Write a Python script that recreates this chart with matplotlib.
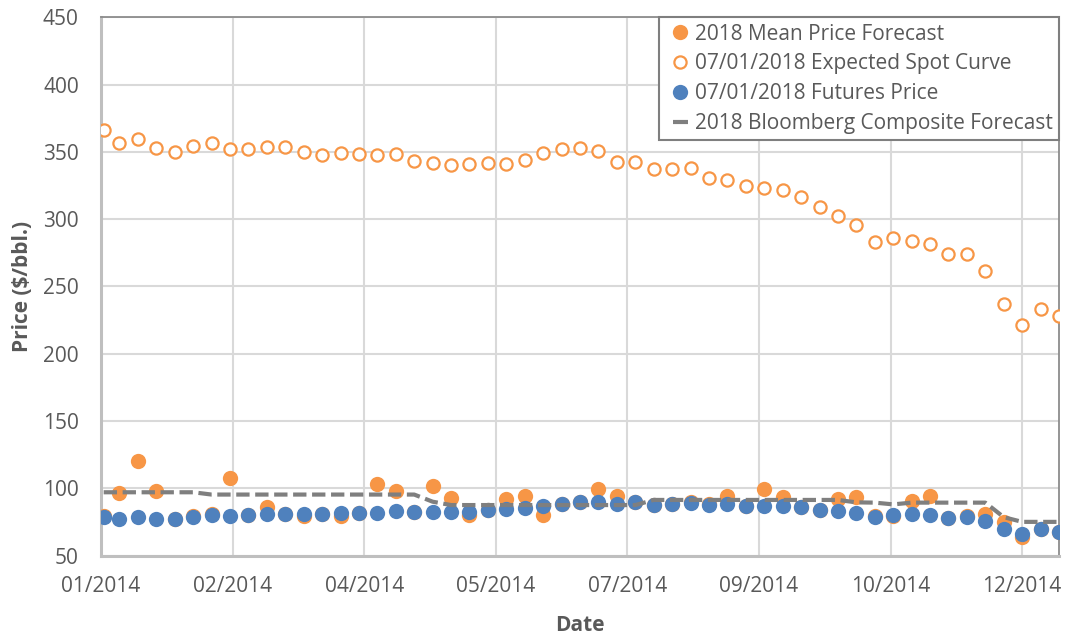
import matplotlib
matplotlib.use("Agg")
import matplotlib.pyplot as plt
import matplotlib.dates as mdates
from matplotlib.lines import Line2D
import numpy as np
import pandas as pd

ORANGE = "#F79646"
BLUE = "#4F81BD"
GRAY = "#7F7F7F"
TXT = "#595959"

plt.rcParams.update({"font.family": ["Open Sans", "DejaVu Sans"], "font.size": 15})

# weekly observations (first is the 2 Jan trading day, then Wednesdays)
dates = [pd.Timestamp("2014-01-02")] + list(pd.date_range("2014-01-08", "2014-12-31", freq="7D"))

spot_curve = [366.4, 356.5, 359.7, 353.0, 349.8, 354.2, 356.7, 351.8, 351.8, 353.7,
              353.7, 349.8, 348.0, 349.0, 348.3, 347.8, 348.3, 343.3, 341.8, 340.6,
              341.1, 341.8, 340.9, 343.6, 349.5, 352.0, 353.2, 350.5, 342.8, 342.6,
              337.4, 336.9, 337.9, 330.5, 329.2, 324.3, 323.0, 321.8, 316.3, 308.7,
              302.5, 296.0, 282.9, 285.9, 283.7, 281.2, 274.0, 274.0, 261.4, 237.1,
              221.2, 233.1, 228.0]

futures = [78.8, 76.9, 78.4, 77.1, 77.1, 78.6, 79.9, 79.1, 79.9, 80.6,
           80.8, 80.6, 80.8, 81.3, 81.3, 81.8, 82.8, 82.1, 82.1, 82.1,
           82.1, 83.8, 84.3, 85.0, 87.0, 88.0, 89.7, 90.0, 88.5, 89.5,
           87.5, 88.0, 88.8, 87.5, 88.0, 86.6, 86.8, 87.0, 85.8, 83.8,
           83.3, 81.8, 78.8, 80.1, 80.6, 80.1, 78.1, 78.8, 75.9, 69.4,
           66.0, 69.4, 67.7]

mean_forecast = [79.0, 96.7, 120.5, 97.9, 77.5, 79.0, 81.0, 107.3, 80.0, 86.3,
                 81.0, 79.5, 81.0, 79.3, 81.5, 102.9, 97.7, 82.0, 101.9, 92.5,
                 80.1, 84.0, 92.0, 94.5, 80.1, 88.0, 90.0, 99.7, 94.5, 89.5,
                 87.5, 88.0, 89.5, 88.0, 94.5, 86.6, 99.4, 93.2, 86.0, 84.0,
                 92.0, 93.2, 79.0, 79.5, 90.8, 94.5, 78.0, 79.0, 80.8, 75.1,
                 63.5, 69.4, 67.7]

bloomberg = [97.0] * 6 + [95.3] * 12 + [90.0] + [87.5] * 11 + [91.3] * 11 + \
            [89.5, 89.3, 88.0, 89.3, 89.3, 89.3, 89.3, 89.3, 78.5, 75.0, 75.0, 75.0]

fig = plt.figure(figsize=(10.67, 6.34), dpi=100)
ax = fig.add_axes([0.0947, 0.1238, 0.8978, 0.8489])

ax.plot(dates, mean_forecast, ls="none", marker="o", ms=11, mew=0,
        color=ORANGE, zorder=3)
ax.plot(dates, spot_curve, ls="none", marker="o", ms=8.8, mew=1.6,
        mfc="white", mec=ORANGE, zorder=3)
ax.plot(dates, futures, ls="none", marker="o", ms=11, mew=0,
        color=BLUE, zorder=4)
ax.plot(dates, bloomberg, color=GRAY, lw=3.0, ls=(0, (3.2, 1.35)),
        solid_capstyle="butt", zorder=5)

ax.set_ylim(50, 450)
ax.set_yticks(np.arange(50, 451, 50))
ax.set_xlim(mdates.date2num(pd.Timestamp("2014-01-01")),
            mdates.date2num(pd.Timestamp("2014-12-31")))
ax.set_xticks(mdates.date2num(pd.date_range("2014-01-01", periods=8, freq="50D")))
ax.xaxis.set_major_formatter(mdates.DateFormatter("%m/%Y"))

ax.grid(True, color="#D9D9D9", lw=1.5, zorder=0)
ax.set_axisbelow(True)
ax.tick_params(length=0, colors=TXT, labelsize=15)
ax.tick_params(axis="y", pad=16)
ax.tick_params(axis="x", pad=15)
for s in ("top", "right"):
    ax.spines[s].set_color("#8C8C8C")
    ax.spines[s].set_linewidth(1.3)
for s in ("left", "bottom"):
    ax.spines[s].set_color("#BFBFBF")
    ax.spines[s].set_linewidth(2.2)

ax.set_ylabel("Price ($/bbl.)", fontsize=15, fontweight="bold", color=TXT)
ax.set_xlabel("Date", fontsize=15, fontweight="bold", color=TXT)
ax.yaxis.set_label_coords(-0.071, 0.5)
ax.xaxis.set_label_coords(0.5, -0.11)

handles = [
    Line2D([], [], ls="none", marker="o", ms=11, mew=0, color=ORANGE),
    Line2D([], [], ls="none", marker="o", ms=8.8, mew=1.6, mfc="white", mec=ORANGE),
    Line2D([], [], ls="none", marker="o", ms=11, mew=0, color=BLUE),
    Line2D([], [], ls="none", marker="_", ms=10.8, mew=3.0, color=GRAY),
]
labels = ["2018 Mean Price Forecast", "07/01/2018 Expected Spot Curve",
          "07/01/2018 Futures Price", "2018 Bloomberg Composite Forecast"]
leg = ax.legend(handles, labels, loc="upper right", bbox_to_anchor=(1, 1),
                borderaxespad=0, fancybox=False, framealpha=1, fontsize=15,
                handlelength=1.35, handletextpad=0.05, labelspacing=0.42,
                borderpad=0.3, labelcolor=TXT)
leg.get_frame().set_edgecolor(GRAY)
leg.get_frame().set_linewidth(1.5)
leg.set_zorder(10)

fig.savefig("out.png", dpi=100)
